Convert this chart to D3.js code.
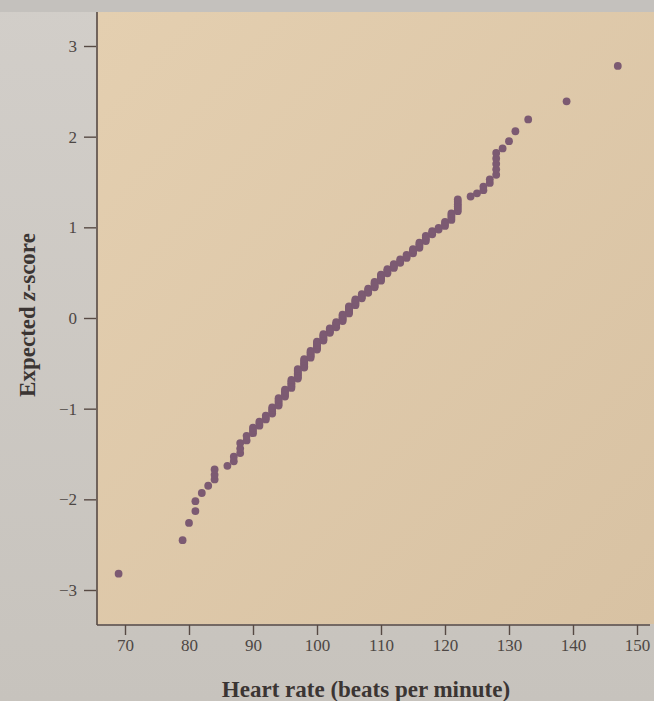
<!DOCTYPE html>
<html>
<head>
<meta charset="utf-8">
<script src="https://cdn.jsdelivr.net/npm/d3@7"></script>
<style>
  html, body { margin: 0; padding: 0; background: #cbc7c1; }
  svg { display: block; }
</style>
</head>
<body>
<svg id="chart" width="654" height="701"></svg>
<script>
// ---- data ----
const xTicks = [70, 80, 90, 100, 110, 120, 130, 140, 150];
const yTicks = [-3, -2, -1, 0, 1, 2, 3];
const xLabel = "Heart rate (beats per minute)";

const heartRate = [
  69, 79, 80, 81, 81, 82, 83, 84, 84, 84, 86, 87, 87, 88, 88, 88, 89, 89,
  90, 90, 90,
  91, 91, 91,
  92, 92, 92,
  93, 93, 93, 93,
  94, 94, 94, 94, 94,
  95, 95, 95, 95, 95,
  96, 96, 96, 96, 96, 96,
  97, 97, 97, 97, 97, 97, 97, 97,
  98, 98, 98, 98, 98, 98, 98,
  99, 99, 99, 99, 99, 99,
  100, 100, 100, 100, 100, 100, 100,
  101, 101, 101, 101, 101, 101,
  102, 102, 102, 102, 102,
  103, 103, 103, 103, 103,
  104, 104, 104, 104, 104, 104,
  105, 105, 105, 105, 105, 105, 105,
  106, 106, 106, 106, 106, 106,
  107, 107, 107, 107,
  108, 108, 108, 108,
  109, 109, 109, 109, 109,
  110, 110, 110, 110, 110, 110,
  111, 111, 111, 111,
  112, 112, 112, 112,
  113, 113, 113,
  114, 114, 114,
  115, 115, 115, 115,
  116, 116, 116, 116,
  117, 117, 117, 117,
  118, 118, 118,
  119, 119,
  120, 120, 120,
  121, 121, 121, 121,
  122, 122, 122, 122, 122, 122,
  124, 125, 126, 126, 127, 127, 128, 128, 128, 128, 128, 129, 130, 131, 133, 139, 147
];

const zScore = [
  -2.82, -2.45, -2.26, -2.13, -2.02, -1.93, -1.85, -1.78, -1.73, -1.67, -1.63, -1.58, -1.53, -1.49, -1.44, -1.38, -1.35, -1.30,
  -1.27, -1.24, -1.21,
  -1.188, -1.165, -1.142,
  -1.119, -1.098, -1.076,
  -1.054, -1.031, -1.009, -0.986,
  -0.965, -0.945, -0.925, -0.905, -0.885,
  -0.866, -0.847, -0.828, -0.809, -0.790,
  -0.771, -0.754, -0.736, -0.719, -0.701, -0.684,
  -0.668, -0.653, -0.638, -0.623, -0.608, -0.593, -0.578, -0.563,
  -0.547, -0.531, -0.516, -0.500, -0.484, -0.469, -0.453,
  -0.438, -0.423, -0.408, -0.393, -0.378, -0.363,
  -0.348, -0.334, -0.319, -0.305, -0.291, -0.276, -0.262,
  -0.248, -0.234, -0.220, -0.205, -0.191, -0.177,
  -0.164, -0.152, -0.140, -0.128, -0.116,
  -0.103, -0.089, -0.075, -0.061, -0.047,
  -0.033, -0.019, -0.005, 0.009, 0.024, 0.038,
  0.051, 0.064, 0.077, 0.090, 0.103, 0.116, 0.129,
  0.141, 0.154, 0.166, 0.179, 0.191, 0.204,
  0.218, 0.233, 0.248, 0.263,
  0.278, 0.293, 0.308, 0.323,
  0.338, 0.353, 0.368, 0.383, 0.398,
  0.412, 0.425, 0.438, 0.452, 0.465, 0.478,
  0.493, 0.508, 0.523, 0.538,
  0.552, 0.566, 0.579, 0.593,
  0.609, 0.628, 0.646,
  0.663, 0.680, 0.697,
  0.713, 0.728, 0.743, 0.758,
  0.774, 0.793, 0.812, 0.831,
  0.849, 0.868, 0.887, 0.906,
  0.923, 0.940, 0.957,
  0.975, 0.995,
  1.016, 1.038, 1.059,
  1.082, 1.106, 1.130, 1.153,
  1.178, 1.204, 1.230, 1.255, 1.281, 1.307,
  1.34, 1.375, 1.41, 1.45, 1.49, 1.53, 1.58, 1.64, 1.70, 1.76, 1.82, 1.87, 1.95, 2.06, 2.19, 2.39, 2.78
];

// ---- layout ----
const W = 654, H = 701;
const plotLeft = 97, plotTop = 12, plotRight = 654, plotBottom = 624;

const svg = d3.select("#chart");

const x = d3.scaleLinear().domain([70, 150]).range([125, 637]);
const y = d3.scaleLinear().domain([-3, 3]).range([590, 46]);

// page background (photographed paper)
const defs = svg.append("defs");
const bg = defs.append("linearGradient").attr("id", "bg").attr("x1", 0).attr("y1", 0).attr("x2", 0).attr("y2", 1);
bg.append("stop").attr("offset", "0%").attr("stop-color", "#d2cec9");
bg.append("stop").attr("offset", "100%").attr("stop-color", "#c7c3bd");
svg.append("rect").attr("width", W).attr("height", H).attr("fill", "url(#bg)");
svg.append("rect").attr("width", W).attr("height", plotTop).attr("fill", "#c4c1bd");

const pg = defs.append("linearGradient").attr("id", "plotbg").attr("x1", 0).attr("y1", 0).attr("x2", 1).attr("y2", 1);
pg.append("stop").attr("offset", "0%").attr("stop-color", "#e4cfb0");
pg.append("stop").attr("offset", "100%").attr("stop-color", "#d8c2a3");
svg.append("rect")
  .attr("x", plotLeft).attr("y", plotTop)
  .attr("width", plotRight - plotLeft).attr("height", plotBottom - plotTop)
  .attr("fill", "url(#plotbg)");

const axisColor = "#574a44";
const textColor = "#4d4744";
const fontFam = "'Liberation Serif', 'DejaVu Serif', serif";

// x axis
const gx = svg.append("g")
  .attr("transform", `translate(0,${plotBottom + 1})`)
  .call(d3.axisBottom(x).tickValues(xTicks).tickSize(10).tickSizeOuter(0).tickPadding(4));
gx.select(".domain").remove();
gx.selectAll(".tick line").attr("stroke", axisColor).attr("stroke-width", 1.4);
gx.selectAll(".tick text").attr("fill", textColor).attr("font-family", fontFam).attr("font-size", 17);

// y axis
const gy = svg.append("g")
  .attr("transform", `translate(${plotLeft - 1},0)`)
  .call(d3.axisLeft(y).tickValues(yTicks).tickSize(12).tickSizeOuter(0).tickPadding(7)
    .tickFormat(d => d < 0 ? "\u2212" + Math.abs(d) : String(d)));
gy.select(".domain").remove();
gy.selectAll(".tick line").attr("stroke", axisColor).attr("stroke-width", 1.4);
gy.selectAll(".tick text").attr("fill", textColor).attr("font-family", fontFam).attr("font-size", 17);

// axis lines
svg.append("line").attr("x1", plotLeft).attr("x2", plotLeft).attr("y1", plotTop).attr("y2", plotBottom + 1)
  .attr("stroke", axisColor).attr("stroke-width", 1.6);
svg.append("line").attr("x1", plotLeft).attr("x2", 650).attr("y1", plotBottom + 1).attr("y2", plotBottom + 1)
  .attr("stroke", axisColor).attr("stroke-width", 1.6);

// points
const pts = heartRate.map((h, i) => ({ h, z: zScore[i] }));
svg.append("g").selectAll("circle").data(pts).join("circle")
  .attr("cx", d => x(d.h))
  .attr("cy", d => y(d.z))
  .attr("r", 3.9)
  .attr("fill", "#7c5a72");

// axis titles
svg.append("text")
  .attr("x", 366).attr("y", 697)
  .attr("text-anchor", "middle")
  .attr("font-family", fontFam).attr("font-weight", "bold").attr("font-size", 23)
  .attr("fill", "#3b3533")
  .text(xLabel);

const yt = svg.append("text")
  .attr("transform", "translate(35,315) rotate(-90)")
  .attr("text-anchor", "middle")
  .attr("font-family", fontFam).attr("font-weight", "bold").attr("font-size", 23)
  .attr("fill", "#3b3533");
yt.append("tspan").text("Expected ");
yt.append("tspan").attr("font-style", "italic").text("z");
yt.append("tspan").text("-score");
</script>
</body>
</html>
